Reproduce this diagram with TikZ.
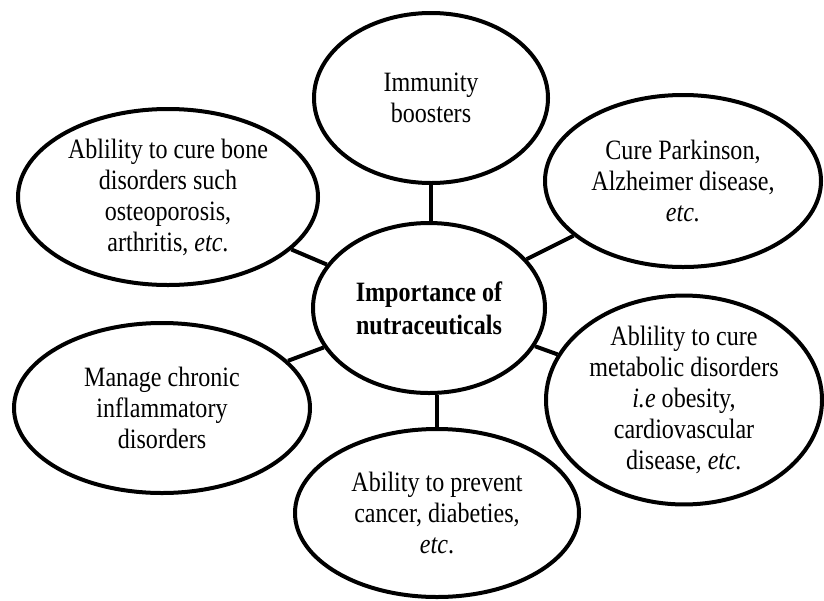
\documentclass[tikz,border=0pt]{standalone}
\usepackage{fontspec}
\setmainfont{Liberation Serif}[FakeStretch=0.86]
\usetikzlibrary{shapes.geometric}
\begin{document}
\begin{tikzpicture}[x=1pt,y=-1pt,
  bubble/.style={draw=black, line width=4pt, ellipse, inner sep=0pt, align=center,
    font=\fontsize{28}{31}\selectfont, text=black},
  link/.style={draw=black, line width=4pt}]
\useasboundingbox (0,0) rectangle (824,600);
\node[bubble, font=\fontsize{28}{33}\selectfont\bfseries, minimum width=232pt, minimum height=170pt] (c) at (429,308) {Importance of\\nutraceuticals};
\node[bubble, minimum width=234pt, minimum height=170pt] (t) at (431,98) {Immunity\\boosters};
\node[bubble, minimum width=300pt, minimum height=176pt] (tl) at (168,197) {Ablility to cure bone\\disorders such\\osteoporosis,\\arthritis, \textit{etc}.};
\node[bubble, minimum width=276pt, minimum height=172pt] (tr) at (683,181) {Cure Parkinson,\\Alzheimer disease,\\\textit{etc.}};
\node[bubble, minimum width=276pt, minimum height=180pt] (r) at (684,400) {Ablility to cure\\metabolic disorders\\\textit{i.e} obesity,\\cardiovascular\\disease, \textit{etc.}};
\node[bubble, minimum width=296pt, minimum height=170pt] (bl) at (162,408) {Manage chronic\\inflammatory\\disorders};
\node[bubble, minimum width=284pt, minimum height=168pt] (b) at (437,513) {Ability to prevent\\cancer, diabeties,\\\textit{etc}.};
\draw[link] (t.south) -- (t.south |- c.north);
\draw[link] (b.north) -- (b.north |- c.south);
\draw[link] (c) -- (tl);
\draw[link] (c) -- (tr);
\draw[link] (c) -- (r);
\draw[link] (c) -- (bl);
\end{tikzpicture}
\end{document}
